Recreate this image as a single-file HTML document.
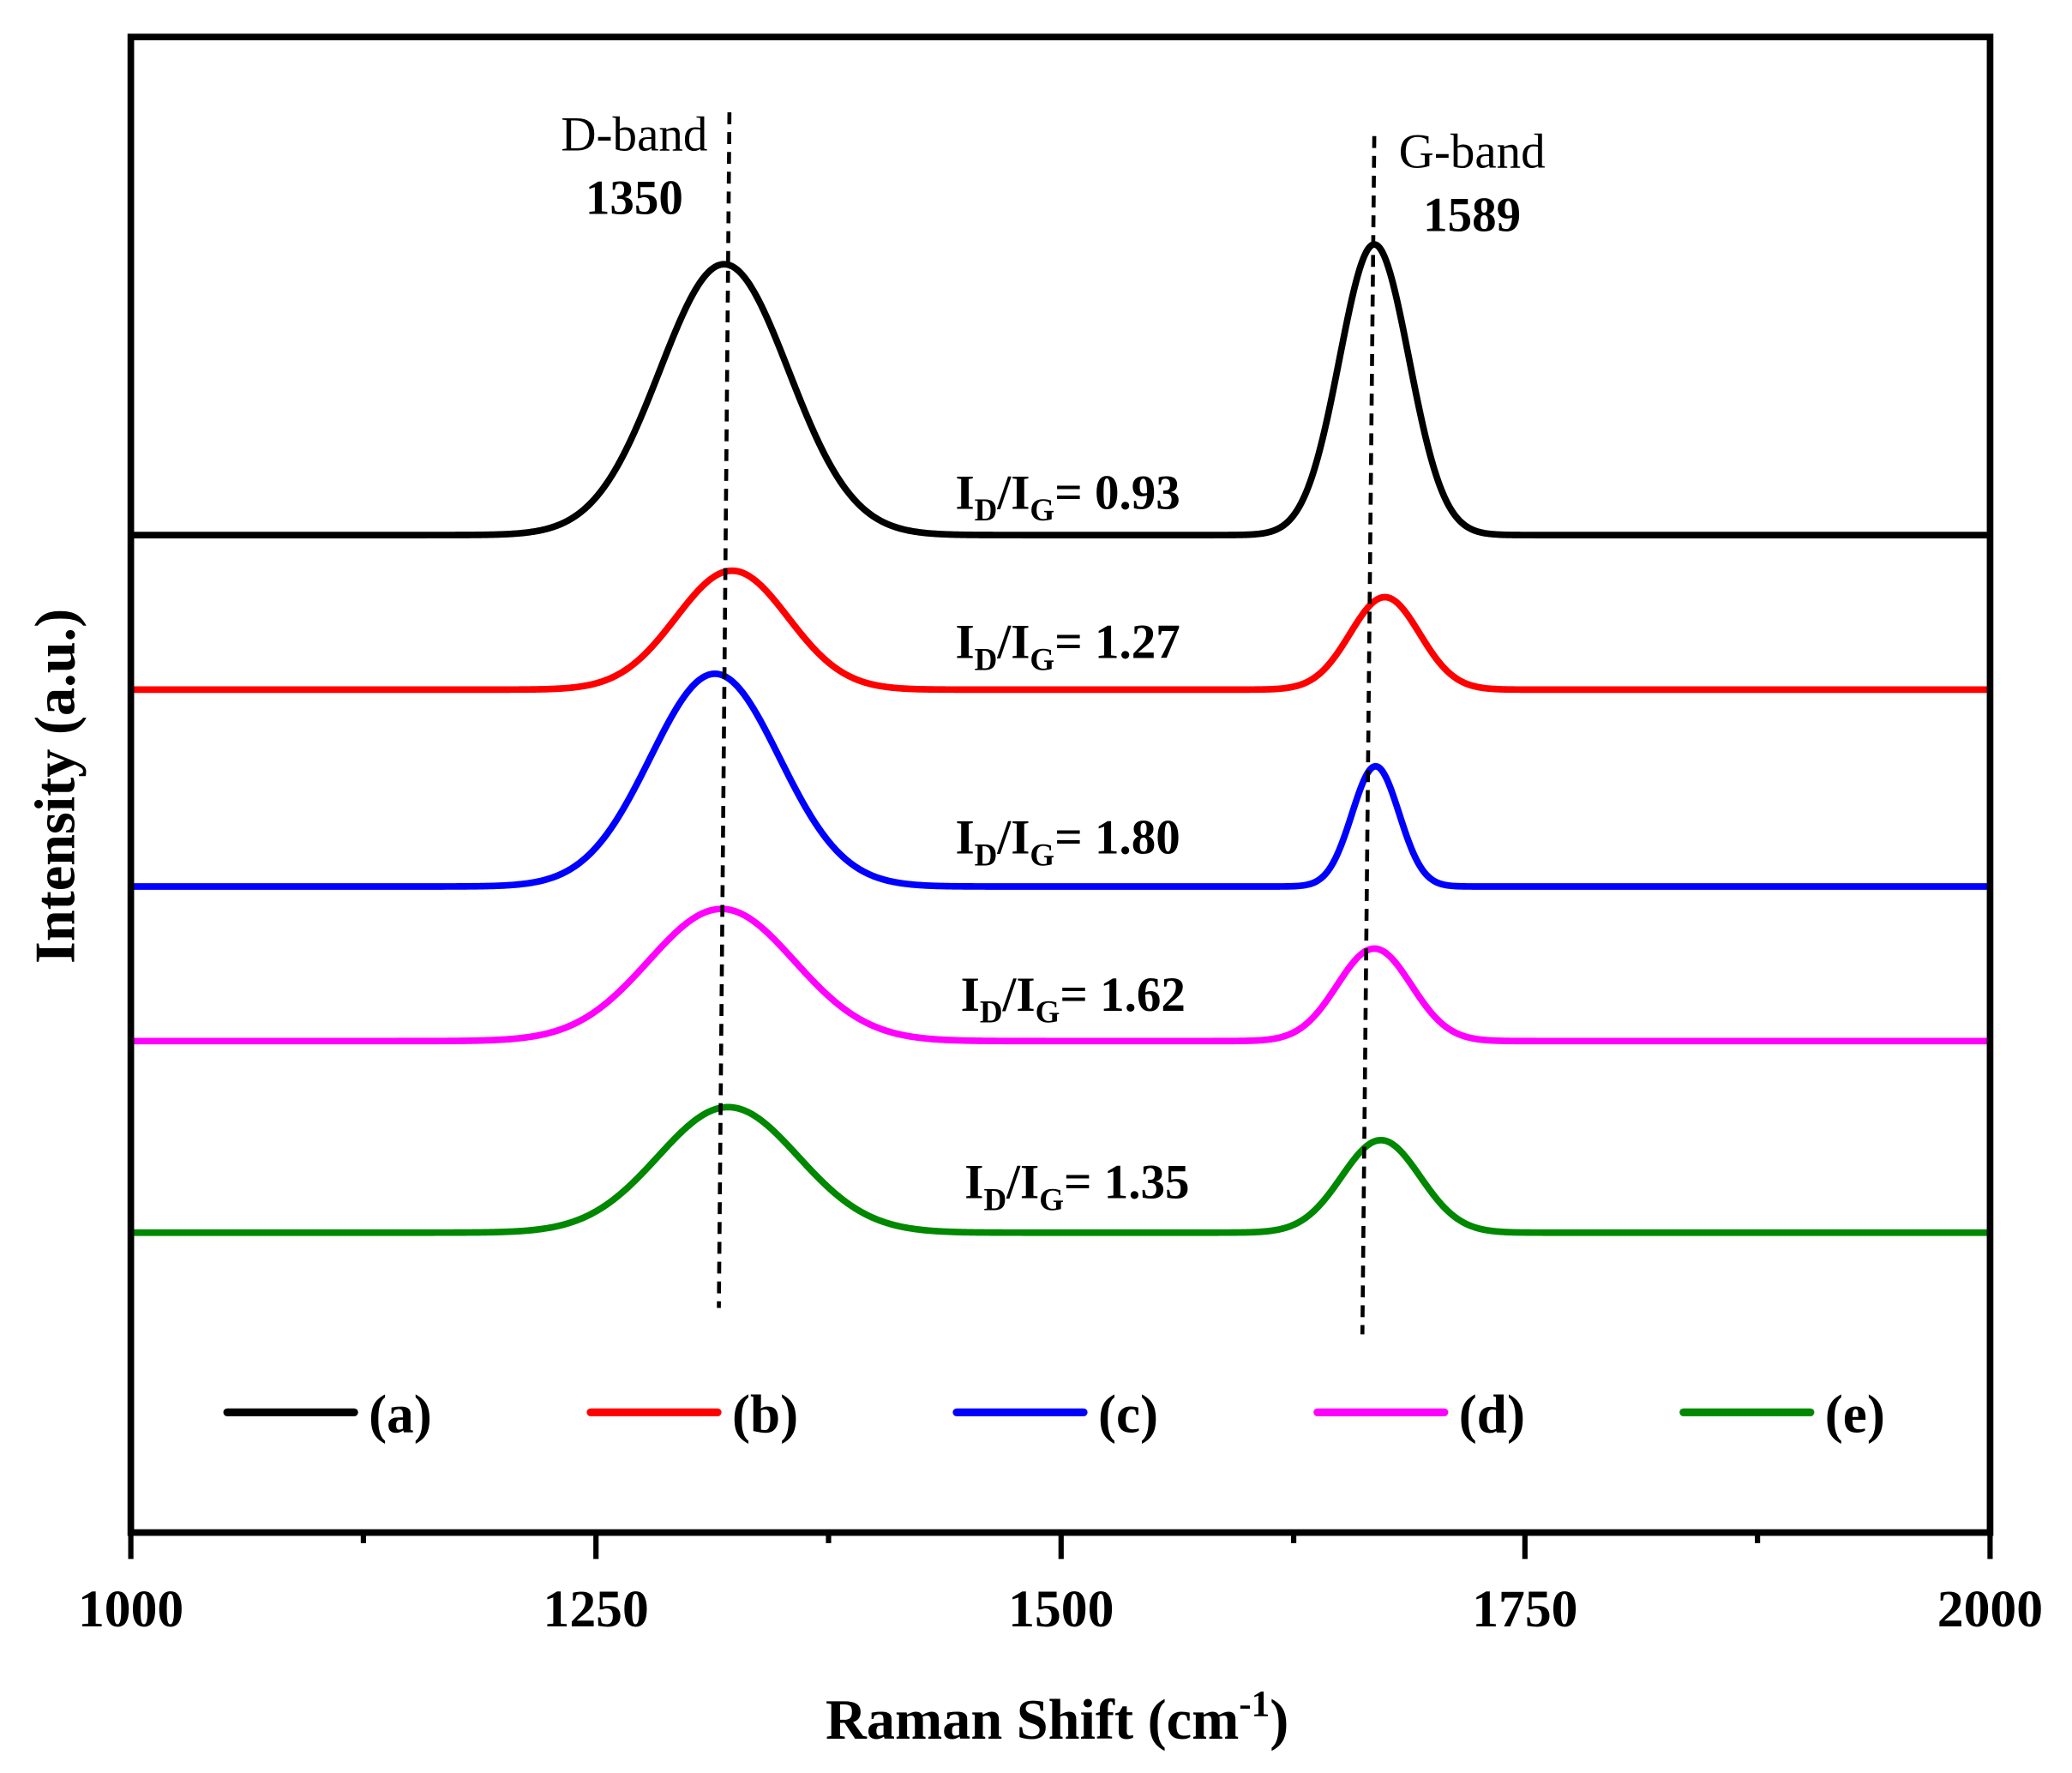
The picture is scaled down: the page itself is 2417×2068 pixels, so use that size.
<!DOCTYPE html>
<html><head><meta charset="utf-8"><style>
html,body{margin:0;padding:0;background:#fff;}
svg{display:block;}
text{font-family:"Liberation Serif",serif;}
</style></head><body>
<svg id="s" width="2417" height="2068" viewBox="0 0 1568 1342" preserveAspectRatio="none" xmlns="http://www.w3.org/2000/svg">
<rect x="0" y="0" width="1568" height="1342" fill="#fff"/>
<g id="curves"></g>
<line x1="552" y1="85" x2="544" y2="990" stroke="#000" stroke-width="3" stroke-dasharray="9,6"/>
<line x1="1040" y1="103" x2="1031" y2="1010" stroke="#000" stroke-width="3" stroke-dasharray="9,6"/>
<rect x="99" y="28" width="1407" height="1132" fill="none" stroke="#000" stroke-width="5"/>
<g stroke="#000" stroke-width="4">
<line x1="99" y1="1160" x2="99" y2="1180"/><line x1="451" y1="1160" x2="451" y2="1180"/><line x1="803" y1="1160" x2="803" y2="1180"/><line x1="1154" y1="1160" x2="1154" y2="1180"/><line x1="1506" y1="1160" x2="1506" y2="1180"/>
<line x1="275" y1="1160" x2="275" y2="1168"/><line x1="627" y1="1160" x2="627" y2="1168"/><line x1="979" y1="1160" x2="979" y2="1168"/><line x1="1330" y1="1160" x2="1330" y2="1168"/>
</g>
<g font-size="40" font-weight="bold" text-anchor="middle">
<text x="99" y="1231">1000</text><text x="451" y="1231">1250</text><text x="803" y="1231">1500</text><text x="1154" y="1231">1750</text><text x="1506" y="1231">2000</text>
<text x="800" y="1316" font-size="43">Raman Shift (cm<tspan dy="-17" font-size="28">-1</tspan><tspan dy="17">)</tspan></text>
<text transform="translate(56,595) rotate(-90)" font-size="43">Intensity (a.u.)</text>
</g>
<g font-size="37">
<text x="480" y="114" text-anchor="middle">D-band</text>
<text x="480" y="162" text-anchor="middle" font-weight="bold">1350</text>
<text x="1114" y="127" text-anchor="middle">G-band</text>
<text x="1114" y="175" text-anchor="middle" font-weight="bold">1589</text>
</g>
<g font-size="37" font-weight="bold">
<text x="723" y="385">I<tspan font-size="24" dy="9">D</tspan><tspan dy="-9">/I</tspan><tspan font-size="24" dy="9">G</tspan><tspan dy="-9">= 0.93</tspan></text>
<text x="723" y="498">I<tspan font-size="24" dy="9">D</tspan><tspan dy="-9">/I</tspan><tspan font-size="24" dy="9">G</tspan><tspan dy="-9">= 1.27</tspan></text>
<text x="723" y="646">I<tspan font-size="24" dy="9">D</tspan><tspan dy="-9">/I</tspan><tspan font-size="24" dy="9">G</tspan><tspan dy="-9">= 1.80</tspan></text>
<text x="727" y="765">I<tspan font-size="24" dy="9">D</tspan><tspan dy="-9">/I</tspan><tspan font-size="24" dy="9">G</tspan><tspan dy="-9">= 1.62</tspan></text>
<text x="730" y="907">I<tspan font-size="24" dy="9">D</tspan><tspan dy="-9">/I</tspan><tspan font-size="24" dy="9">G</tspan><tspan dy="-9">= 1.35</tspan></text>
</g>
<g stroke-width="6" stroke-linecap="round">
<line x1="172" y1="1069" x2="268" y2="1069" stroke="#000"/>
<line x1="447" y1="1069" x2="543" y2="1069" stroke="#f00"/>
<line x1="724" y1="1069" x2="820" y2="1069" stroke="#00f"/>
<line x1="997" y1="1069" x2="1093" y2="1069" stroke="#f0f"/>
<line x1="1274" y1="1069" x2="1370" y2="1069" stroke="#080"/>
</g>
<g font-size="41" font-weight="bold">
<text x="279" y="1084">(a)</text><text x="554" y="1084">(b)</text><text x="831" y="1084">(c)</text><text x="1104" y="1084">(d)</text><text x="1381" y="1084">(e)</text>
</g>
</svg>
<script>
var data=[
 ["#000",405,548,200,115,1040,185,62],
 ["#f00",522,554,432,100,1048,452,62],
 ["#00f",671,541,510,115,1041,580,42],
 ["#f0f",788,546,688,130,1040,718,66],
 ["#080",933,551,838,125,1045,863,70]];
var g=document.getElementById("curves"),ns="http://www.w3.org/2000/svg";
data.forEach(function(d){
 var s1=d[4]/2.355,s2=d[7]/2.355,p="";
 for(var x=99;x<=1506;x+=1){
  var y=d[1]-(d[1]-d[3])*Math.exp(-Math.pow(x-d[2],2)/(2*s1*s1))-(d[1]-d[6])*Math.exp(-Math.pow(x-d[5],2)/(2*s2*s2));
  p+=(x==99?"M":"L")+x+","+y.toFixed(2);
 }
 var e=document.createElementNS(ns,"path");
 e.setAttribute("d",p);e.setAttribute("fill","none");e.setAttribute("stroke",d[0]);e.setAttribute("stroke-width","5");
 g.appendChild(e);
});
</script>
</body></html>
